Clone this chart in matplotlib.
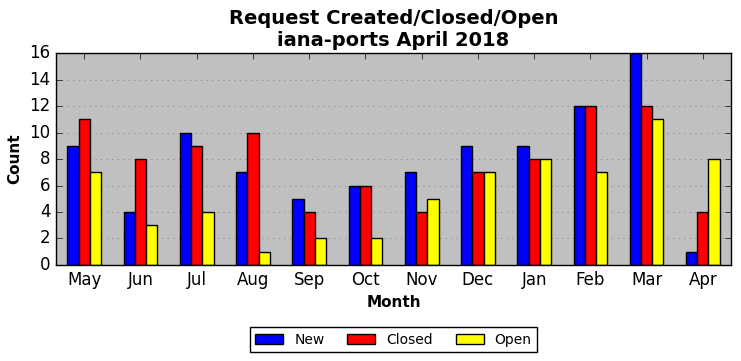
import numpy as np
import matplotlib
matplotlib.use("Agg")
import matplotlib.pyplot as plt

months = ["May", "Jun", "Jul", "Aug", "Sep", "Oct", "Nov", "Dec", "Jan", "Feb", "Mar", "Apr"]
new = [9, 4, 10, 7, 5, 6, 7, 9, 9, 12, 16, 1]
closed = [11, 8, 9, 10, 4, 6, 4, 7, 8, 12, 12, 4]
opened = [7, 3, 4, 1, 2, 2, 5, 7, 8, 7, 11, 8]

plt.style.use("classic")
fig = plt.figure(figsize=(7.41, 3.61), dpi=100, facecolor="white")
ax = fig.add_axes([0.0756, 0.266, 0.9109, 0.587])
ax.set_facecolor("#c0c0c0")

x = np.arange(len(months))
w = 0.2
ax.bar(x - w, new, w, color="blue", edgecolor="black", label="New", align="center")
ax.bar(x, closed, w, color="red", edgecolor="black", label="Closed", align="center")
ax.bar(x + w, opened, w, color="yellow", edgecolor="black", label="Open", align="center")

ax.set_xlim(-0.5, len(months) - 0.5)
ax.set_ylim(0, 16)
ax.set_xticks(x)
ax.set_xticklabels(months, fontsize=12)
ax.set_yticks(range(0, 17, 2))
ax.tick_params(axis="y", labelsize=12)
ax.yaxis.grid(True, linestyle=":", color="#808080")
ax.xaxis.grid(False)
ax.set_axisbelow(True)

ax.set_xlabel("Month", fontsize=11, fontweight="bold")
ax.set_ylabel("Count", fontsize=11, fontweight="bold")
ax.set_title("Request Created/Closed/Open\niana-ports April 2018", fontsize=14, fontweight="bold")

leg = ax.legend(loc="upper center", bbox_to_anchor=(0.5, -0.26), ncol=3, fontsize=10,
                frameon=True, fancybox=False, columnspacing=1.65)
leg.get_frame().set_edgecolor("black")

fig.savefig("out.png", dpi=100, facecolor="white")
